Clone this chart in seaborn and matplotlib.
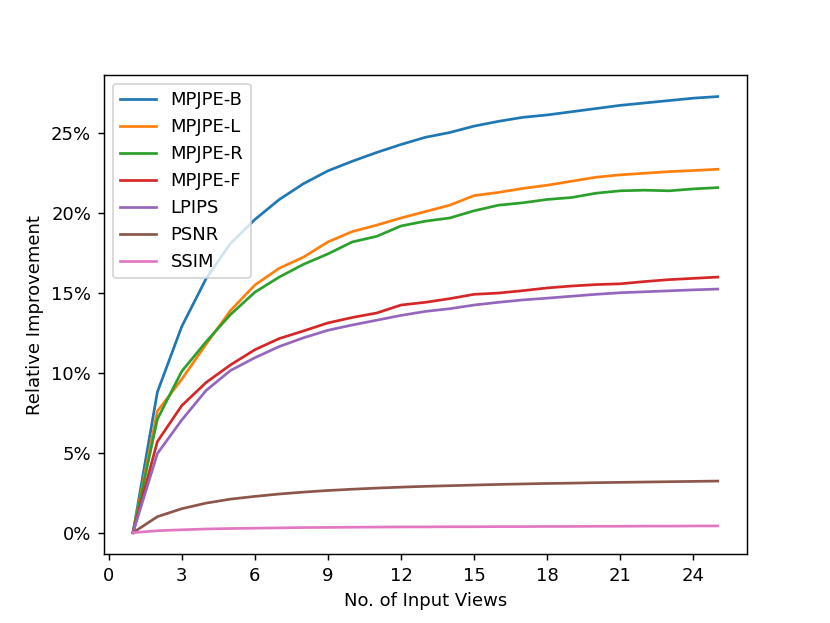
import numpy as np
import pandas as pd
import seaborn as sns
import matplotlib.pyplot as plt
from matplotlib.ticker import PercentFormatter, MultipleLocator

#%% values (relative improvement, %)
views = list(range(1, 26))

mpjpe_b = [0, 8.8, 12.9, 15.9, 18.1, 19.6, 20.85, 21.85, 22.65, 23.25, 23.8, 24.3, 24.75,
           25.05, 25.45, 25.75, 26.0, 26.15, 26.35, 26.55, 26.75, 26.9, 27.05, 27.2, 27.3]
mpjpe_l = [0, 7.6, 9.6, 11.8, 13.9, 15.5, 16.55, 17.25, 18.2, 18.85, 19.25, 19.7, 20.1,
           20.5, 21.1, 21.3, 21.55, 21.75, 22.0, 22.25, 22.4, 22.5, 22.6, 22.67, 22.75]
mpjpe_r = [0, 7.1, 10.1, 11.95, 13.65, 15.05, 16.0, 16.8, 17.45, 18.2, 18.55, 19.2, 19.5,
           19.7, 20.15, 20.5, 20.65, 20.86, 20.98, 21.25, 21.4, 21.44, 21.4, 21.52, 21.6]
mpjpe_f = [0, 5.7, 7.95, 9.4, 10.5, 11.45, 12.15, 12.63, 13.13, 13.47, 13.75, 14.25, 14.42,
           14.65, 14.92, 15.0, 15.15, 15.32, 15.44, 15.53, 15.58, 15.72, 15.84, 15.92, 16.0]
lpips = [0, 4.95, 7.05, 8.9, 10.15, 10.95, 11.65, 12.2, 12.67, 13.0, 13.3, 13.6, 13.85,
         14.02, 14.25, 14.42, 14.57, 14.68, 14.8, 14.92, 15.02, 15.08, 15.14, 15.2, 15.25]
psnr = [0, 1.0, 1.5, 1.85, 2.1, 2.27, 2.42, 2.54, 2.64, 2.72, 2.79, 2.85, 2.9,
        2.94, 2.98, 3.02, 3.05, 3.08, 3.1, 3.13, 3.15, 3.17, 3.19, 3.21, 3.23]
ssim = [0, 0.12, 0.18, 0.23, 0.26, 0.28, 0.3, 0.32, 0.33, 0.34, 0.35, 0.36, 0.36,
        0.37, 0.37, 0.38, 0.38, 0.39, 0.39, 0.4, 0.4, 0.41, 0.41, 0.42, 0.42]

metrics = ['MPJPE-B', 'MPJPE-L', 'MPJPE-R', 'MPJPE-F', 'LPIPS', 'PSNR', 'SSIM']
series = [mpjpe_b, mpjpe_l, mpjpe_r, mpjpe_f, lpips, psnr, ssim]

#%% long format for seaborn
df = pd.concat([pd.DataFrame({'views': views, 'improvement': vals, 'metric': name})
                for name, vals in zip(metrics, series)], ignore_index=True)

#%% plot
fig, ax = plt.subplots(figsize=(830 / 130, 623 / 130), dpi=130)
sns.lineplot(data=df, x='views', y='improvement', hue='metric', hue_order=metrics,
             palette='tab10', linewidth=1.5, ax=ax)

ax.xaxis.set_major_locator(MultipleLocator(3))
ax.yaxis.set_major_locator(MultipleLocator(5))
ax.yaxis.set_major_formatter(PercentFormatter(xmax=100, decimals=0))
ax.set_xlabel('No. of Input Views')
ax.set_ylabel('Relative Improvement')

handles, labels = ax.get_legend_handles_labels()
ax.legend(handles, labels, loc='upper left')

plt.savefig('out.png', dpi=130)
plt.close()
